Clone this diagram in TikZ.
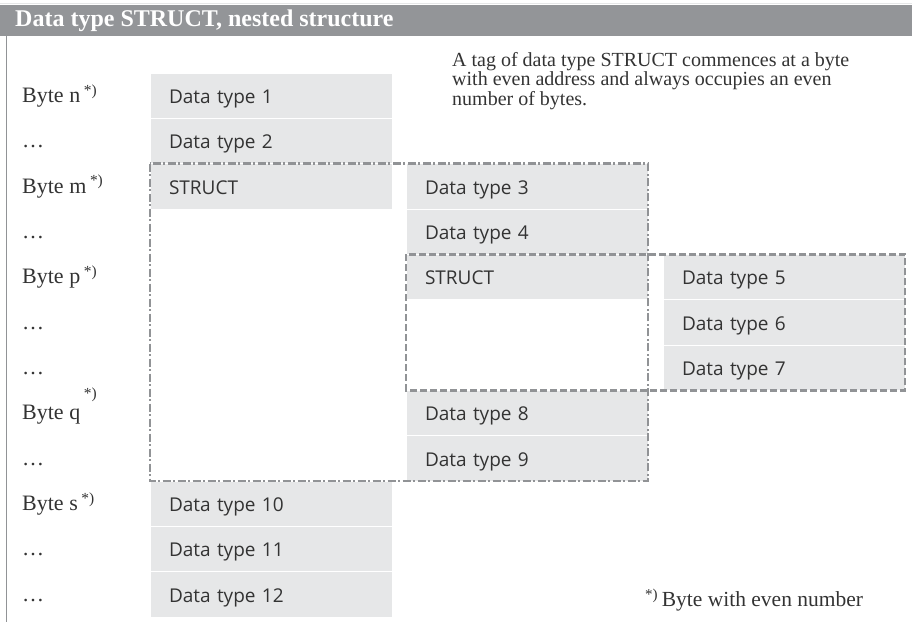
\documentclass[tikz,border=0pt]{standalone}
\usepackage{fontspec}
\setmainfont{Liberation Serif}
\setsansfont{Open Sans}
\usetikzlibrary{positioning}
\definecolor{titlegray}{RGB}{147,149,152}
\definecolor{cellgray}{RGB}{230,231,232}
\definecolor{linegray}{RGB}{145,147,150}
\definecolor{textgray}{RGB}{51,51,51}
\tikzset{
  cell/.style={
    fill=cellgray,
    draw=white,
    line width=0.8pt,
    outer sep=0pt,
    anchor=north west,
    minimum width=242pt,
    minimum height=45.33pt,
    inner xsep=19pt,
    inner ysep=0pt,
    text width=204pt,
    text height=17pt,
    text depth=1pt,
    align=left,
    text=textgray,
    font=\sffamily\fontsize{19}{22}\selectfont
  },
  bytelabel/.style={
    anchor=base west,
    inner sep=0pt,
    text=textgray,
    font=\fontsize{22}{26}\selectfont
  },
  structbox/.style={
    draw=linegray,
    line width=2.5pt,
    dash pattern=on 8pt off 2.5pt on 2pt off 2.5pt
  },
  innerbox/.style={
    draw=linegray,
    line width=2.5pt,
    dash pattern=on 7pt off 3pt
  }
}
\begin{document}
\begin{tikzpicture}[x=1pt,y=-1pt]
  \useasboundingbox (0,0) rectangle (912,628);

  % Title bar and frame
  \draw[cellgray, line width=1pt] (0,3.5) -- (912,3.5);
  \fill[titlegray] (0,5) rectangle (912,36);
  \node[anchor=west, inner sep=0pt, text=white,
        font=\bfseries\fontsize{24}{26}\selectfont] (title) at (15,21) {Data type STRUCT, nested structure};
  \draw[linegray, line width=1.2pt] (6.5,36) -- (6.5,622);

  % Byte column
  \foreach \lab [count=\i] in {Byte n\,\textsuperscript{*)}, \dots, Byte m\,\textsuperscript{*)},
      \dots, Byte p\,\textsuperscript{*)}, \dots, \dots, Byte q\,\raisebox{1.4ex}{\textsuperscript{*)}},
      \dots, Byte s\,\textsuperscript{*)}, \dots, \dots}
    \node[bytelabel] (row\i) at (22,{73+(\i-0.5)*45.33+7}) {\lab};

  % First level
  \node[cell] (dt1) at (150,73) {Data type 1};
  \node[cell, below=0pt of dt1] (dt2) {Data type 2};
  \node[cell, below=0pt of dt2] (struct1) {STRUCT};

  % Second level
  \node[cell, right=14pt of struct1] (dt3) {Data type 3};
  \node[cell, below=0pt of dt3] (dt4) {Data type 4};
  \node[cell, below=0pt of dt4] (struct2) {STRUCT};

  % Third level
  \node[cell, right=15pt of struct2] (dt5) {Data type 5};
  \node[cell, below=0pt of dt5] (dt6) {Data type 6};
  \node[cell, below=0pt of dt6] (dt7) {Data type 7};

  \node[cell] (dt8) at (struct2.south west |- dt7.south) {Data type 8};
  \node[cell, below=0pt of dt8] (dt9) {Data type 9};

  \node[cell] (dt10) at (struct1.south west |- dt9.south) {Data type 10};
  \node[cell, below=0pt of dt10] (dt11) {Data type 11};
  \node[cell, below=0pt of dt11] (dt12) {Data type 12};

  % Structure frames
  \draw[structbox] (struct1.north west) rectangle (dt9.south east);
  \draw[innerbox] (struct2.north west) rectangle (dt7.south east);

  % Notes
  \node[anchor=north west, inner sep=0pt, align=left, text=textgray,
        font=\fontsize{20}{19.5}\selectfont] (note) at (452,52)
    {A tag of data type STRUCT commences at a byte\\with even address and always occupies an even\\number of bytes.};
  \node[anchor=west, inner sep=0pt, text=textgray,
        font=\fontsize{21.5}{24}\selectfont] (foot) at (645,600)
    {\textsuperscript{*)}\,Byte with even number};
\end{tikzpicture}
\end{document}
